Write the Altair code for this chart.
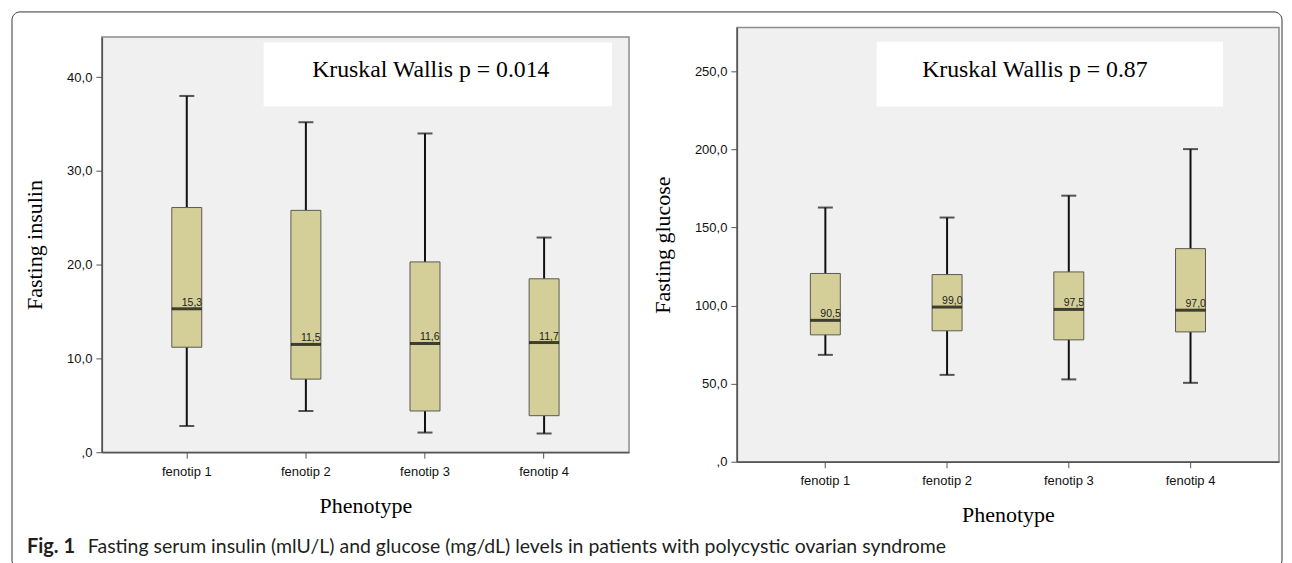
import altair as alt
import pandas as pd

# ---------------- data ----------------
phenotypes = ["fenotip 1", "fenotip 2", "fenotip 3", "fenotip 4"]

insulin_min = [2.8, 4.4, 2.1, 2.0]
insulin_q1 = [11.2, 7.8, 4.4, 3.9]
insulin_median = [15.3, 11.5, 11.6, 11.7]
insulin_q3 = [26.1, 25.8, 20.3, 18.5]
insulin_max = [38.0, 35.2, 34.0, 22.9]
insulin_ticks = [0, 10, 20, 30, 40]

glucose_min = [68.4, 55.6, 52.7, 50.5]
glucose_q1 = [81.2, 83.8, 78.0, 83.1]
glucose_median = [90.5, 99.0, 97.5, 97.0]
glucose_q3 = [120.5, 119.8, 121.5, 136.4]
glucose_max = [162.7, 156.3, 170.3, 200.1]
glucose_ticks = [0, 50, 100, 150, 200, 250]

insulin_note = "Kruskal Wallis p = 0.014"
glucose_note = "Kruskal Wallis p = 0.87"
x_title = "Phenotype"
insulin_title = "Fasting insulin"
glucose_title = "Fasting glucose"
caption_bold = "Fig. 1"
caption_text = "Fasting serum insulin (mlU/L) and glucose (mg/dL) levels in patients with polycystic ovarian syndrome"

SANS = "Liberation Sans"
SERIF = "Liberation Serif"
BOX_FILL = "#d4cf99"
LABEL_EXPR = "datum.value == 0 ? ',0' : replace(format(datum.value, '.1f'), '.', ',')"


def panel(lo, q1, med, q3, hi, ticks, ymax, ytitle, width, height, pad_outer,
          note, note_box, note_pos, extra_layers=None):
    df = pd.DataFrame({
        "cat": phenotypes, "lo": lo, "q1": q1, "med": med, "q3": q3, "hi": hi,
        "label": [f"{v:.1f}".replace(".", ",") for v in med],
    })
    x = alt.X("cat:N", sort=phenotypes,
              scale=alt.Scale(type="band", paddingInner=0, paddingOuter=pad_outer),
              axis=alt.Axis(title=x_title, labelAngle=0, tickSize=6, labelPadding=7,
                            domainColor="#555", tickColor="#555", domainWidth=1.5,
                            labelFont=SANS, labelFontSize=13, labelColor="#111",
                            titleFont=SERIF, titleFontSize=22, titleFontWeight="normal",
                            titleColor="#000", titlePadding=17))
    ysc = alt.Scale(domain=[0, ymax], nice=False, zero=True)
    yaxis = alt.Axis(title=ytitle, values=ticks, labelExpr=LABEL_EXPR, grid=False,
                     tickSize=6, labelPadding=4, domainColor="#555", tickColor="#555",
                     domainWidth=1.5,
                     labelFont=SANS, labelFontSize=13, labelColor="#111",
                     titleFont=SERIF, titleFontSize=22, titleFontWeight="normal",
                     titleColor="#000", titlePadding=20)

    def Y(field):
        return alt.Y(field, scale=ysc, axis=yaxis, title=ytitle)

    base = alt.Chart(df)
    note_df = pd.DataFrame({"t": [note]})
    nb = alt.Chart(note_df)
    box_rect = nb.mark_rect(fill="white").encode(
        x=alt.value(note_box[0]), x2=alt.value(note_box[1]),
        y=alt.value(note_box[2]), y2=alt.value(note_box[3]))
    box_text = nb.mark_text(font=SERIF, fontSize=23.8, color="#000", align="center",
                            baseline="alphabetic").encode(
        x=alt.value(note_pos[0]), y=alt.value(note_pos[1]), text="t:N")
    whisk = base.mark_rule(color="#111", strokeWidth=2).encode(
        x=x, y=Y("lo:Q"), y2="hi:Q")
    cap_lo = base.mark_tick(color="#111", size=15, thickness=2).encode(
        x=x, y=Y("lo:Q"))
    cap_hi = base.mark_tick(color="#111", size=15, thickness=2).encode(
        x=x, y=Y("hi:Q"))
    box = base.mark_bar(size=30, fill=BOX_FILL, stroke="#5a5a50", strokeWidth=1).encode(
        x=x, y=Y("q1:Q"), y2="q3:Q")
    median = base.mark_tick(color="#000", size=30, thickness=3).encode(
        x=x, y=Y("med:Q"))
    mlabel = base.mark_text(font=SANS, fontSize=10.5, color="#222", align="left",
                            baseline="alphabetic", dx=-5, dy=-3).encode(
        x=x, y=Y("med:Q"), text="label:N")
    layers = [box_rect, box_text, whisk, cap_lo, cap_hi, box, median, mlabel]
    if extra_layers:
        layers += extra_layers
    return alt.layer(*layers).properties(width=width, height=height)


# frame and caption (decoration, placed relative to the left panel)
cap_df = pd.DataFrame({"b": [caption_bold], "t": [caption_text]})
cb = alt.Chart(cap_df)
frame = cb.mark_rect(fillOpacity=0, stroke="#333", strokeWidth=1, cornerRadius=8).encode(
    x=alt.value(-90), x2=alt.value(1182), y=alt.value(-25), y2=alt.value(532))
cap1 = cb.mark_text(font="Lato", fontSize=20, fontWeight="bold", color="#231f20",
                    align="left", baseline="alphabetic").encode(
    x=alt.value(-75), y=alt.value(517), text="b:N")
cap2 = cb.mark_text(font="Lato", fontSize=19.5, color="#231f20",
                    align="left", baseline="alphabetic").encode(
    x=alt.value(-14), y=alt.value(517), text="t:N")

left = panel(insulin_min, insulin_q1, insulin_median, insulin_q3, insulin_max,
             insulin_ticks, 44.3, insulin_title, 528, 416, 0.213,
             insulin_note, (162, 511, 5.5, 69.5), (329.5, 40.5),
             extra_layers=[frame, cap1, cap2])
right = panel(glucose_min, glucose_q1, glucose_median, glucose_q3, glucose_max,
              glucose_ticks, 278, glucose_title, 543, 435, 0.227,
              glucose_note, (140, 487, 14.3, 79.3), (298.5, 49.8))

chart = alt.hconcat(left, right, spacing=108, bounds="flush", center=True).properties(
    padding={"left": 2, "top": 2, "right": 0, "bottom": 0},
    background="white",
).configure_view(fill="#f0f0f0", stroke="#8c8c8c", strokeWidth=1.5)

chart.save("out.html", embed_options={"renderer": "svg", "actions": False})
